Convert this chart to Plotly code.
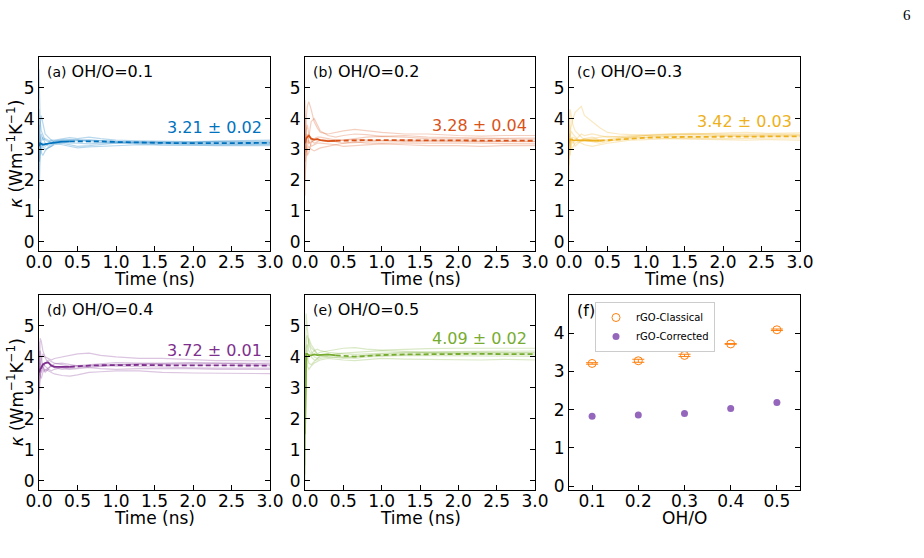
import plotly.graph_objects as go

# ---------------- data ----------------
T = [0.0, 0.005, 0.015, 0.03, 0.05, 0.08, 0.12, 0.16, 0.2, 0.3, 0.4, 0.5,
     0.65, 0.8, 1.0, 1.3, 1.6, 2.0, 2.3, 2.6, 2.8, 3.0]

A_RUNS = [
    [5.6, 4.5, 3.9, 3.6, 3.5, 3.3, 3.25, 3.3, 3.3, 3.35, 3.38, 3.35, 3.4, 3.35, 3.3, 3.28, 3.26, 3.25, 3.27, 3.28, 3.3, 3.3],
    [1.4, 2.2, 2.8, 3.0, 3.1, 3.0, 3.05, 3.1, 3.15, 3.2, 3.15, 3.1, 3.12, 3.15, 3.2, 3.18, 3.15, 3.14, 3.12, 3.13, 3.12, 3.12],
    [2.6, 3.4, 3.8, 4.1, 3.9, 3.5, 3.4, 3.3, 3.25, 3.3, 3.3, 3.32, 3.3, 3.27, 3.25, 3.22, 3.2, 3.2, 3.19, 3.2, 3.2, 3.21],
    [4.3, 3.6, 3.2, 2.9, 2.8, 2.95, 3.05, 3.1, 3.2, 3.22, 3.25, 3.28, 3.3, 3.28, 3.26, 3.25, 3.22, 3.22, 3.24, 3.23, 3.22, 3.23],
    [3.0, 2.6, 2.9, 3.3, 3.4, 3.2, 3.1, 3.15, 3.2, 3.15, 3.1, 3.05, 3.08, 3.1, 3.12, 3.15, 3.14, 3.15, 3.16, 3.15, 3.15, 3.16],
    [2.0, 2.8, 3.3, 3.5, 3.3, 3.35, 3.3, 3.2, 3.28, 3.3, 3.32, 3.3, 3.25, 3.23, 3.22, 3.2, 3.18, 3.18, 3.17, 3.18, 3.18, 3.18],
    [3.8, 3.3, 3.0, 3.1, 3.2, 3.1, 3.2, 3.25, 3.22, 3.25, 3.2, 3.2, 3.18, 3.2, 3.22, 3.24, 3.25, 3.24, 3.26, 3.27, 3.27, 3.26],
]
A_MEAN = [3.1, 3.15, 3.2, 3.18, 3.15, 3.17, 3.18, 3.2, 3.22, 3.25, 3.26, 3.26, 3.27, 3.26, 3.24, 3.22, 3.21, 3.2, 3.2, 3.2, 3.2, 3.21]

B_RUNS = [
    [1.5, 3.0, 4.0, 4.4, 4.55, 4.3, 3.9, 3.7, 3.55, 3.5, 3.55, 3.6, 3.65, 3.6, 3.55, 3.5, 3.5, 3.45, 3.43, 3.45, 3.44, 3.45],
    [4.6, 3.8, 3.3, 3.2, 3.4, 3.9, 4.0, 3.8, 3.6, 3.45, 3.4, 3.45, 3.5, 3.48, 3.42, 3.45, 3.4, 3.38, 3.36, 3.36, 3.37, 3.37],
    [2.0, 2.3, 2.7, 3.0, 3.1, 3.0, 2.95, 3.0, 3.05, 3.1, 3.15, 3.1, 3.12, 3.15, 3.18, 3.15, 3.12, 3.12, 3.1, 3.12, 3.12, 3.12],
    [3.5, 3.2, 3.6, 3.8, 3.5, 3.3, 3.2, 3.25, 3.3, 3.3, 3.25, 3.2, 3.22, 3.25, 3.28, 3.3, 3.3, 3.28, 3.27, 3.28, 3.27, 3.27],
    [2.8, 3.4, 3.1, 2.8, 2.9, 3.2, 3.35, 3.4, 3.4, 3.35, 3.3, 3.3, 3.35, 3.4, 3.42, 3.4, 3.35, 3.33, 3.35, 3.34, 3.33, 3.33],
    [4.0, 3.6, 2.9, 3.1, 3.3, 3.1, 3.15, 3.2, 3.2, 3.18, 3.15, 3.2, 3.25, 3.2, 3.2, 3.22, 3.22, 3.2, 3.2, 3.19, 3.18, 3.18],
    [3.1, 2.6, 3.3, 3.5, 3.2, 3.25, 3.3, 3.35, 3.3, 3.25, 3.28, 3.3, 3.32, 3.3, 3.28, 3.25, 3.26, 3.25, 3.24, 3.24, 3.25, 3.25],
]
B_MEAN = [3.2, 3.3, 3.35, 3.4, 3.45, 3.35, 3.32, 3.33, 3.3, 3.27, 3.28, 3.29, 3.3, 3.3, 3.3, 3.3, 3.29, 3.29, 3.28, 3.28, 3.28, 3.28]

C_RUNS = [
    [2.0, 3.0, 4.3, 4.1, 3.8, 3.6, 3.5, 3.4, 3.3, 3.25, 3.2, 3.25, 3.35, 3.4, 3.45, 3.5, 3.52, 3.5, 3.5, 3.52, 3.5, 3.5],
    [3.5, 3.3, 3.6, 3.8, 4.0, 4.2, 4.3, 4.4, 4.1, 3.9, 3.7, 3.55, 3.5, 3.48, 3.45, 3.48, 3.5, 3.55, 3.55, 3.52, 3.53, 3.54],
    [4.3, 3.8, 3.3, 3.0, 3.1, 3.2, 3.25, 3.2, 3.15, 3.1, 3.15, 3.2, 3.25, 3.3, 3.32, 3.35, 3.33, 3.3, 3.3, 3.32, 3.31, 3.3],
    [2.5, 2.9, 3.2, 3.4, 3.3, 3.1, 3.2, 3.3, 3.35, 3.3, 3.3, 3.32, 3.38, 3.42, 3.45, 3.42, 3.4, 3.42, 3.44, 3.43, 3.42, 3.43],
    [3.0, 3.5, 2.8, 3.2, 3.4, 3.35, 3.3, 3.25, 3.3, 3.35, 3.4, 3.42, 3.4, 3.38, 3.4, 3.45, 3.47, 3.45, 3.43, 3.44, 3.45, 3.45],
    [3.8, 3.1, 3.4, 3.6, 3.5, 3.4, 3.3, 3.3, 3.35, 3.4, 3.3, 3.28, 3.3, 3.35, 3.38, 3.36, 3.35, 3.35, 3.36, 3.37, 3.36, 3.37],
    [2.7, 3.2, 3.0, 3.3, 3.2, 3.3, 3.4, 3.5, 3.45, 3.5, 3.45, 3.4, 3.42, 3.45, 3.48, 3.5, 3.48, 3.47, 3.48, 3.47, 3.48, 3.48],
]
C_MEAN = [3.2, 3.35, 3.3, 3.32, 3.3, 3.3, 3.28, 3.28, 3.29, 3.28, 3.28, 3.3, 3.32, 3.35, 3.38, 3.4, 3.41, 3.42, 3.42, 3.42, 3.42, 3.42]

D_RUNS = [
    [2.3, 3.6, 4.6, 4.5, 4.2, 4.0, 3.95, 3.9, 3.95, 4.0, 4.05, 4.1, 4.12, 4.05, 4.0, 3.95, 3.95, 3.9, 3.88, 3.88, 3.87, 3.87],
    [4.2, 3.8, 3.4, 3.3, 3.5, 3.6, 3.55, 3.5, 3.45, 3.4, 3.38, 3.42, 3.5, 3.52, 3.55, 3.55, 3.5, 3.48, 3.47, 3.47, 3.46, 3.46],
    [3.0, 3.2, 3.6, 3.9, 4.1, 3.95, 3.8, 3.7, 3.65, 3.6, 3.62, 3.65, 3.7, 3.72, 3.7, 3.68, 3.66, 3.65, 3.64, 3.65, 3.64, 3.64],
    [3.8, 3.4, 3.7, 3.5, 3.6, 3.8, 3.9, 3.85, 3.8, 3.75, 3.7, 3.72, 3.75, 3.8, 3.82, 3.8, 3.78, 3.79, 3.8, 3.8, 3.79, 3.8],
    [2.6, 3.0, 3.3, 3.6, 3.8, 3.7, 3.6, 3.55, 3.6, 3.65, 3.68, 3.7, 3.72, 3.75, 3.76, 3.75, 3.74, 3.73, 3.72, 3.73, 3.73, 3.72],
    [4.5, 4.0, 3.8, 3.7, 3.6, 3.5, 3.6, 3.75, 3.7, 3.65, 3.6, 3.62, 3.66, 3.7, 3.74, 3.78, 3.8, 3.82, 3.8, 3.78, 3.77, 3.76],
    [3.3, 3.9, 4.2, 4.0, 3.7, 3.55, 3.65, 3.7, 3.78, 3.8, 3.75, 3.7, 3.65, 3.62, 3.6, 3.62, 3.63, 3.62, 3.6, 3.6, 3.6, 3.6],
]
D_MEAN = [3.5, 3.55, 3.6, 3.65, 3.75, 3.8, 3.82, 3.72, 3.68, 3.68, 3.68, 3.7, 3.72, 3.73, 3.74, 3.74, 3.73, 3.73, 3.72, 3.72, 3.72, 3.72]

E_RUNS = [
    [0.0, 4.6, 5.4, 4.9, 4.5, 4.3, 4.2, 4.1, 4.15, 4.2, 4.25, 4.28, 4.3, 4.25, 4.22, 4.25, 4.27, 4.28, 4.27, 4.28, 4.28, 4.28],
    [0.5, 3.5, 4.0, 3.7, 3.6, 3.7, 3.8, 3.85, 3.9, 3.95, 3.92, 3.9, 3.88, 3.92, 3.95, 3.93, 3.92, 3.9, 3.9, 3.92, 3.91, 3.9],
    [1.5, 4.2, 4.6, 4.7, 4.4, 4.2, 4.0, 3.95, 4.0, 4.05, 4.1, 4.12, 4.15, 4.18, 4.2, 4.18, 4.16, 4.17, 4.18, 4.18, 4.18, 4.19],
    [2.0, 3.2, 3.6, 3.9, 4.1, 4.0, 3.9, 3.9, 3.95, 4.0, 4.0, 3.98, 3.95, 4.0, 4.02, 4.05, 4.04, 4.03, 4.02, 4.02, 4.02, 4.02],
    [0.2, 3.8, 4.3, 4.4, 4.2, 4.1, 4.2, 4.25, 4.2, 4.15, 4.12, 4.1, 4.08, 4.1, 4.12, 4.15, 4.14, 4.12, 4.13, 4.12, 4.12, 4.12],
    [3.0, 4.0, 3.8, 4.2, 4.6, 4.4, 4.25, 4.1, 4.05, 4.0, 3.98, 3.95, 4.0, 4.05, 4.05, 4.08, 4.1, 4.1, 4.08, 4.07, 4.07, 4.07],
    [1.0, 3.9, 4.1, 4.0, 3.8, 3.75, 3.85, 3.95, 4.05, 4.08, 4.05, 4.0, 4.02, 4.06, 4.1, 4.12, 4.15, 4.15, 4.14, 4.15, 4.14, 4.15],
]
E_MEAN = [1.5, 3.9, 4.1, 4.1, 4.05, 4.05, 4.08, 4.06, 4.07, 4.08, 4.05, 4.03, 4.01, 4.03, 4.06, 4.08, 4.09, 4.1, 4.1, 4.09, 4.09, 4.09]

PANEL_TAGS = ["(a)", "(b)", "(c)", "(d)", "(e)"]
PANEL_TITLES = ["OH/O=0.1", "OH/O=0.2", "OH/O=0.3", "OH/O=0.4", "OH/O=0.5"]
FINAL_VALUES = [3.21, 3.28, 3.42, 3.72, 4.09]
FINAL_ERRORS = [0.02, 0.04, 0.03, 0.01, 0.02]
TIME_TICKS = [0.0, 0.5, 1.0, 1.5, 2.0, 2.5, 3.0]
KAPPA_TICKS = [0, 1, 2, 3, 4, 5]

RATIO = [0.1, 0.2, 0.3, 0.4, 0.5]
CLASSICAL = [3.21, 3.28, 3.42, 3.72, 4.09]
CLASSICAL_ERR = [0.02, 0.04, 0.03, 0.01, 0.02]
CORRECTED = [1.83, 1.86, 1.90, 2.03, 2.19]
F_YTICKS = [0, 1, 2, 3, 4]

# ---------------- styling / layout ----------------
RUNS = [A_RUNS, B_RUNS, C_RUNS, D_RUNS, E_RUNS]
MEANS = [A_MEAN, B_MEAN, C_MEAN, D_MEAN, E_MEAN]
COLORS = [(0, 114, 189), (217, 83, 25), (237, 177, 32), (126, 47, 142), (119, 172, 48)]
W, H = 924, 558
BOXES = [(39, 270, 57, 251), (305, 535, 57, 251), (569, 800, 57, 251),
         (39, 270, 295, 490), (305, 535, 295, 490), (569, 800, 295, 490)]
FONT = "DejaVu Sans"
TICK_SIZE = 17
SPLIT = 0.4  # mean drawn solid before, dashed after


def px_x(x):
    return x / W


def px_y(y):
    return 1 - y / H


def rgb(c, a=1.0):
    return f"rgba({c[0]},{c[1]},{c[2]},{a})"


fig = go.Figure()
layout = dict(
    template="none",
    width=W, height=H, margin=dict(l=0, r=0, t=0, b=0, pad=0, autoexpand=False),
    paper_bgcolor="white", plot_bgcolor="white",
    font=dict(family=FONT, color="black"),
    showlegend=True,
)
annotations = []

for i, box in enumerate(BOXES):
    n = "" if i == 0 else str(i + 1)
    xd = [px_x(box[0]), px_x(box[1])]
    yd = [px_y(box[3]), px_y(box[2])]
    common = dict(showline=True, linecolor="black", linewidth=1.2, ticks="inside",
                  ticklen=5, tickwidth=1.2, tickcolor="black", showgrid=False,
                  zeroline=False, automargin=False,
                  tickfont=dict(family=FONT, size=TICK_SIZE, color="black"))
    if i < 5:
        xa = dict(common, domain=xd, anchor="y" + n, range=[0, 3], tickvals=TIME_TICKS,
                  ticktext=[f"{v:.1f}" for v in TIME_TICKS], mirror=True, ticklabelstandoff=-5)
        ya = dict(common, domain=yd, anchor="x" + n, range=[-0.3, 6.0], tickvals=KAPPA_TICKS,
                  mirror="allticks")
    else:
        xa = dict(common, domain=xd, anchor="y" + n, range=[0.05, 0.55], tickvals=RATIO,
                  ticktext=[f"{v:.1f}" for v in RATIO], mirror=True, ticklabelstandoff=-5)
        ya = dict(common, domain=yd, anchor="x" + n, range=[-0.1, 5.0], tickvals=F_YTICKS,
                  mirror="allticks")
    layout["xaxis" + n] = xa
    layout["yaxis" + n] = ya

    # x-axis title
    annotations.append(dict(text="OH/O" if i == 5 else "Time (ns)", xref="paper", yref="paper",
                            x=px_x((box[0] + box[1]) / 2), y=px_y(box[3] + 28),
                            showarrow=False, font=dict(size=17), xanchor="center", yanchor="middle"))

    if i < 5:
        c = COLORS[i]
        for run in RUNS[i]:
            fig.add_trace(go.Scatter(x=T, y=run, mode="lines", xaxis="x" + n, yaxis="y" + n,
                                     line=dict(color=rgb(c, 0.28), width=1.2), showlegend=False,
                                     hoverinfo="skip"))
        m = MEANS[i]
        t_solid = [t for t in T if t <= SPLIT]
        m_solid = [v for t, v in zip(T, m) if t <= SPLIT]
        t_dash = [t for t in T if t >= SPLIT]
        m_dash = [v for t, v in zip(T, m) if t >= SPLIT]
        fig.add_trace(go.Scatter(x=t_solid, y=m_solid, mode="lines", xaxis="x" + n, yaxis="y" + n,
                                 line=dict(color=rgb(c), width=1.8), showlegend=False))
        fig.add_trace(go.Scatter(x=t_dash, y=m_dash, mode="lines", xaxis="x" + n, yaxis="y" + n,
                                 line=dict(color=rgb(c), width=1.8, dash="5px,3px"), showlegend=False))
        # panel title
        annotations.append(dict(
            text=f"<span style='font-size:14px'>{PANEL_TAGS[i]}</span> {PANEL_TITLES[i]}",
            xref="paper", yref="paper", x=px_x(box[0] + 6), y=px_y(box[2] + 14),
            xanchor="left", yanchor="middle", showarrow=False, font=dict(size=16)))
        # final value
        annotations.append(dict(
            text=f"{FINAL_VALUES[i]:.2f} ± {FINAL_ERRORS[i]:.2f}", xref="x" + n, yref="y" + n,
            x=2.92, y=FINAL_VALUES[i] + 0.5, xanchor="right", yanchor="middle", showarrow=False,
            font=dict(size=16, color=rgb(c))))
        if i in (0, 3):
            annotations.append(dict(
                text="<i>κ</i> (Wm<sup>−1</sup>K<sup>−1</sup>)", xref="paper", yref="paper",
                x=px_x(15), y=px_y((box[2] + box[3]) / 2), textangle=-90, showarrow=False,
                font=dict(size=17), xanchor="center", yanchor="middle"))
    else:
        fig.add_trace(go.Scatter(
            x=RATIO, y=CLASSICAL, mode="markers", name="rGO-Classical", xaxis="x" + n, yaxis="y" + n,
            marker=dict(symbol="circle-open", size=8, color="#ff7f0e", line=dict(width=1)),
            error_y=dict(type="data", array=CLASSICAL_ERR, color="#ff7f0e", thickness=1, width=6)))
        fig.add_trace(go.Scatter(
            x=RATIO, y=CORRECTED, mode="markers", name="rGO-Corrected", xaxis="x" + n, yaxis="y" + n,
            marker=dict(symbol="circle", size=7, color="#9467bd")))
        annotations.append(dict(text="(f)", xref="paper", yref="paper", x=px_x(box[0] + 6),
                                y=px_y(box[2] + 15), xanchor="left", yanchor="middle",
                                showarrow=False, font=dict(size=16)))

# page number
annotations.append(dict(text="6", xref="paper", yref="paper", x=px_x(907), y=px_y(15),
                        xanchor="center", yanchor="middle",
                        showarrow=False, font=dict(family="Liberation Serif", size=15)))

layout["annotations"] = annotations
layout["legend"] = dict(x=px_x(595), y=px_y(302), xanchor="left", yanchor="top",
                        bgcolor="white", bordercolor="#cccccc", borderwidth=1,
                        font=dict(size=10), tracegroupgap=0, itemwidth=30)
fig.update_layout(**layout)
fig.write_html("out.html")
